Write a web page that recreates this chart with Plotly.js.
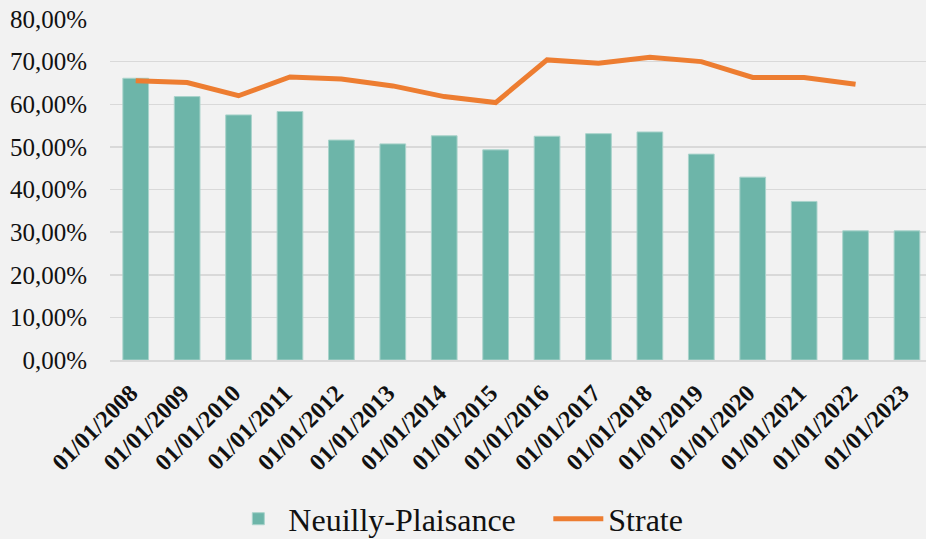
<!DOCTYPE html>
<html><head><meta charset="utf-8">
<script src="https://cdn.plot.ly/plotly-3.0.1.min.js"></script>
<style>html,body{margin:0;padding:0;background:#F2F2F2;}#chart{width:926px;height:539px;}</style>
</head><body><div id="chart"></div>
<script>
const categories = ["01/01/2008","01/01/2009","01/01/2010","01/01/2011","01/01/2012","01/01/2013","01/01/2014","01/01/2015","01/01/2016","01/01/2017","01/01/2018","01/01/2019","01/01/2020","01/01/2021","01/01/2022","01/01/2023"];
const neuilly = [0.661,0.618,0.575,0.583,0.516,0.507,0.526,0.493,0.525,0.531,0.535,0.483,0.429,0.372,0.303,0.303];
const strate = [0.655,0.651,0.620,0.664,0.659,0.643,0.618,0.604,0.704,0.696,0.710,0.700,0.663,0.663,0.647,null];
const yTicks = [0,0.1,0.2,0.3,0.4,0.5,0.6,0.7,0.8];

const fontFam = "Liberation Serif, Times New Roman, DejaVu Serif, serif";
const data = [
  {type:'bar', name:'Neuilly-Plaisance', x:categories, y:neuilly, width:0.5,
   marker:{color:'#6DB5A9', line:{color:'#A9D3CB', width:1}}},
  {type:'scatter', mode:'lines', name:'Strate', x:categories, y:strate,
   line:{color:'#ED7D31', width:5}, connectgaps:false}
];
const layout = {
  width:926, height:539,
  paper_bgcolor:'#F2F2F2', plot_bgcolor:'#F2F2F2',
  margin:{l:110, r:0, t:19, b:179, autoexpand:false},
  separators:', ',
  font:{family:fontFam, color:'#111'},
  showlegend:true,
  legend:{orientation:'h', x:0.145, xanchor:'left', y:-0.466, yanchor:'middle',
          entrywidth:255, entrywidthmode:'pixels',
          font:{size:32, family:fontFam, color:'#111'}, bgcolor:'rgba(0,0,0,0)', itemwidth:50},
  xaxis:{type:'category', range:[-0.5,15.37], tickangle:-45, showgrid:false, automargin:false,
         showline:true, linecolor:'#D9D9D9', linewidth:1.5,
         ticks:'outside', ticklen:8, tickcolor:'rgba(0,0,0,0)', ticklabelshift:-5,
         tickfont:{size:24, family:fontFam, color:'#111', weight:'bold'}},
  yaxis:{range:[0,0.8], tickvals:yTicks, tickformat:'.2%', showgrid:true, gridcolor:'#D9D9D9', gridwidth:1.5,
         automargin:false, zeroline:false, showline:false, ticks:'outside', ticklen:17, tickcolor:'rgba(0,0,0,0)',
         tickfont:{size:25, family:fontFam, color:'#111'}}
};
Plotly.newPlot('chart', data, layout, {displayModeBar:false, staticPlot:true});
</script></body></html>
